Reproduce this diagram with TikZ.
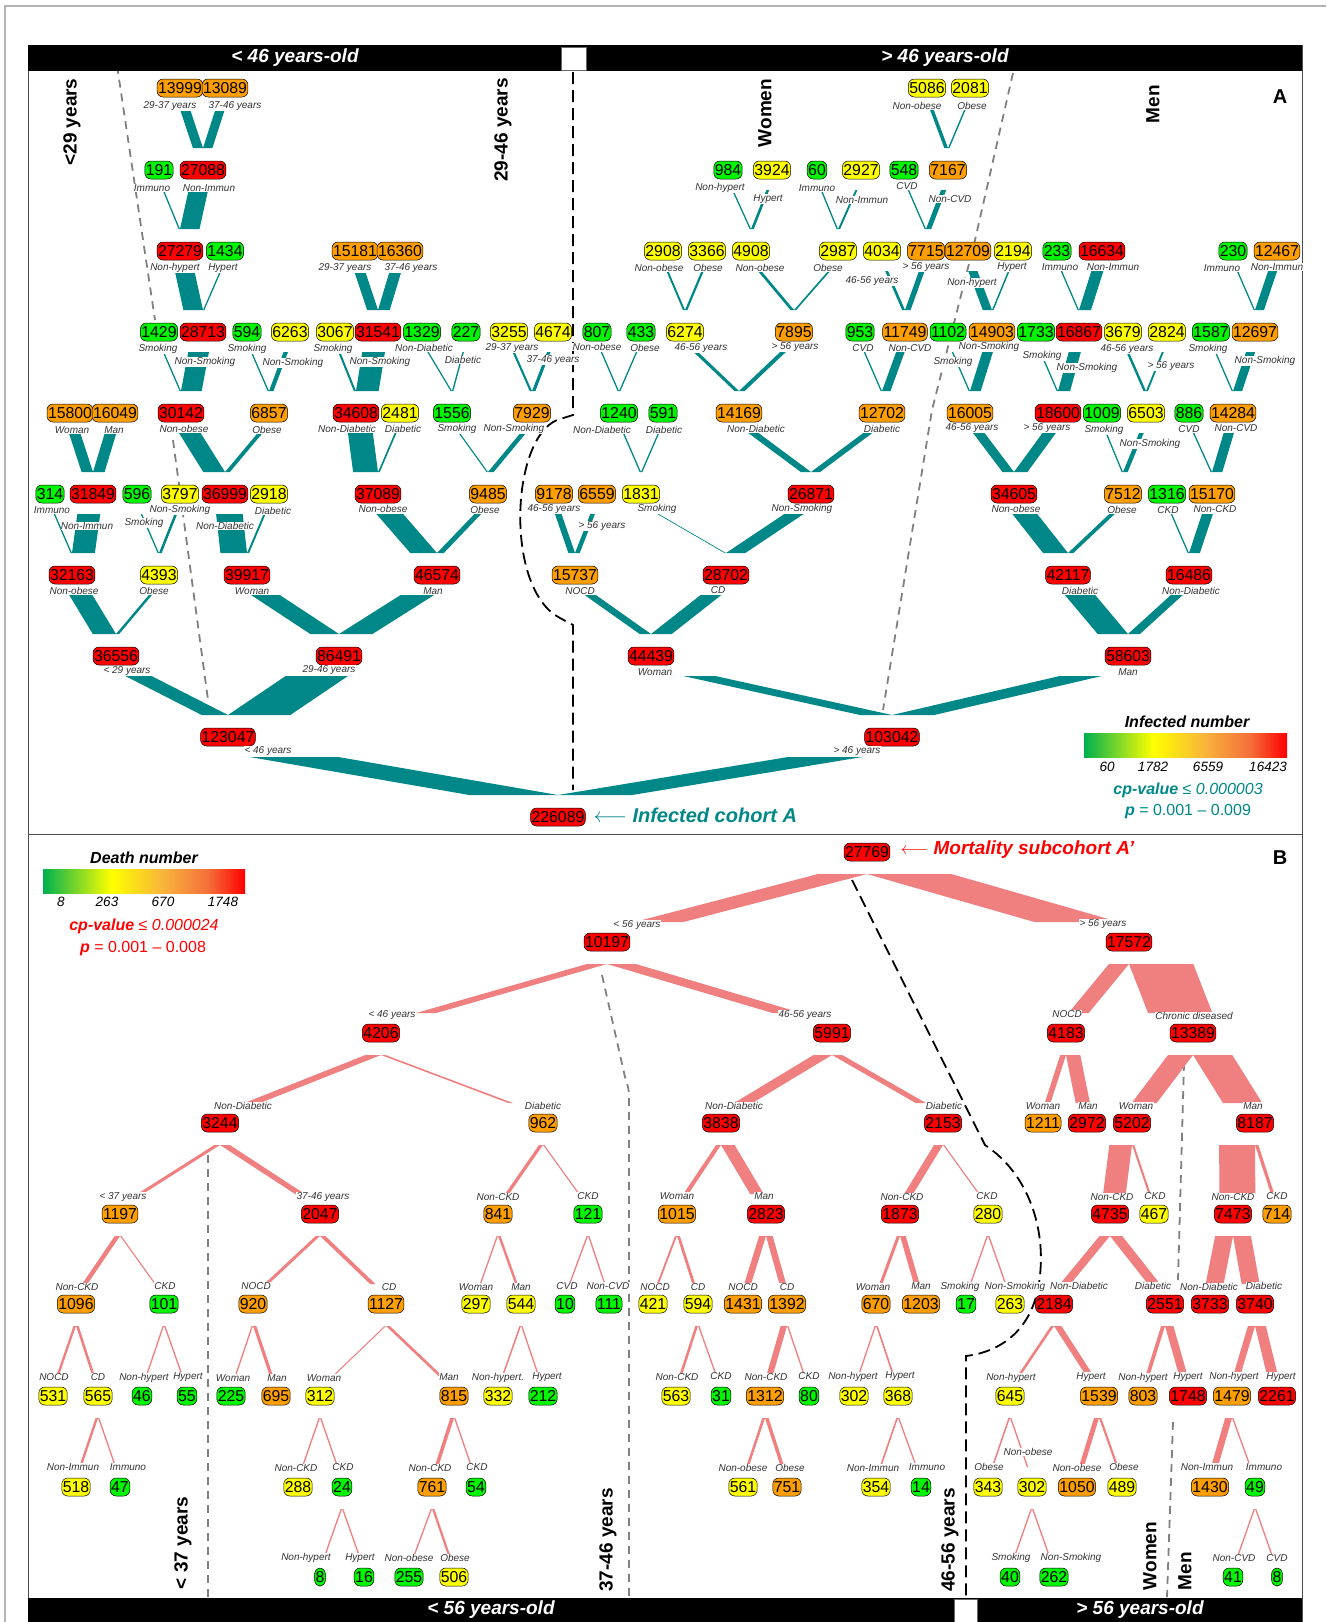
\documentclass[tikz,border=0pt]{standalone}
\usepackage{fontspec}
\setmainfont{Liberation Sans}
\usetikzlibrary{calc}

\definecolor{nodeRed}{RGB}{255,0,0}
\definecolor{nodeOrange}{RGB}{255,158,0}
\definecolor{nodeYellow}{RGB}{255,255,0}
\definecolor{nodeGreen}{RGB}{0,245,0}
\definecolor{flowA}{RGB}{0,135,135}
\definecolor{flowB}{RGB}{240,128,128}
\definecolor{hG}{RGB}{0,176,80}
\definecolor{hY}{RGB}{255,255,0}
\definecolor{hO}{RGB}{248,178,60}
\definecolor{hO2}{RGB}{244,110,58}
\definecolor{hR}{RGB}{255,0,0}

\pgfdeclarehorizontalshading{heat}{100bp}{color(0bp)=(hG); color(25bp)=(hG); color(42bp)=(hY); color(55bp)=(hO); color(66bp)=(hO2); color(75bp)=(hR); color(100bp)=(hR)}

\pgfdeclarelayer{back}
\pgfdeclarelayer{flow}
\pgfsetlayers{back,flow,main}

\tikzset{
  nd/.style={draw, line width=0.5pt, rounded corners=6pt, minimum height=18pt, inner xsep=1pt, inner ysep=0pt, font=\fontsize{15.8}{16}\selectfont},
  cR/.style={nd, fill=nodeRed},
  cO/.style={nd, fill=nodeOrange},
  cY/.style={nd, fill=nodeYellow},
  cG/.style={nd, fill=nodeGreen},
  lb/.style={fill=white, inner sep=0.3pt, text=black!80, font=\itshape\fontsize{10}{10}\selectfont},
  side/.style={rotate=90, font=\bfseries\fontsize{19}{19}\selectfont},
  bartext/.style={text=white, font=\bfseries\itshape\fontsize{19}{19}\selectfont},
  gdash/.style={gray, line width=1.8pt, dash pattern=on 8pt off 6pt},
  kdash/.style={black, line width=1.8pt, dash pattern=on 12pt off 6pt},
  tick/.style={font=\itshape\fontsize{13.5}{14}\selectfont},
}

% band from child node to the junction of its parent
\newcommand\flowband[6]{%
  \ifnum#3<14 \def\bandw{14}\else\edef\bandw{#3}\fi
  \fill[#6] let \p1=(#1.center), \p2=(#2.center), \n1={(\x1>\x2)*2-1}, \n2={\x1+0.2*(\x2-\x1)} in
    (\x2,\y2#4) -- ({\x2+\n1*\bandw*0.1},\y2#4) -- ({\n2+\n1*\bandw*0.05},\y1#5) -- ({\n2-\n1*\bandw*0.05},\y1#5) -- cycle;}
\newcommand\bandA[3]{\flowband{#1}{#2}{\the\numexpr#3*72/10000\relax}{+22pt}{-20pt}{flowA}}
\newcommand\bandB[3]{\flowband{#1}{#2}{\the\numexpr#3*48/1000\relax}{-22pt}{+20pt}{flowB}}

\begin{document}
\begin{tikzpicture}[x=1pt,y=-1pt]
\useasboundingbox (0,0) rectangle (1326,1622);

% frames and bars
\draw[gray!60, line width=1.2pt] (5,1622) -- (5,6) -- (1326,6);
\draw[black!70, line width=0.8pt] (28,45) rectangle (1302,1622);
\draw[black!70, line width=0.8pt] (28,834) -- (1302,834);
\fill[black] (28,45) rectangle (1302,71);
\filldraw[fill=white, draw=black!60] (561,47) rectangle (586,70);
\fill[black] (28,1598) rectangle (1302,1622);
\filldraw[fill=white, draw=black!60] (954,1599) rectangle (977,1622);
\node[bartext] at (295,58) {< 46 years-old};
\node[bartext] at (945,58) {> 46 years-old};
\node[bartext] at (491,1610) {< 56 years-old};
\node[bartext] at (1140,1610) {> 56 years-old};
\node[font=\bfseries\fontsize{20}{20}\selectfont] at (1280,97) {A};
\node[font=\bfseries\fontsize{20}{20}\selectfont] at (1280,858) {B};

% group labels
\node[side] at (72,122) {<29 years};
\node[side] at (503,130) {29-46 years};
\node[side] at (765,113) {Women};
\node[side] at (1153,104) {Men};
\node[side] at (183,1543) {< 37 years};
\node[side] at (608,1540) {37-46 years};
\node[side] at (950,1540) {46-56 years};
\node[side] at (1150,1556) {Women};
\node[side] at (1185,1571) {Men};

% dividing lines
\begin{pgfonlayer}{back}
\draw[gdash] (115,52) -- (155,320);
\draw[gdash] (173,440) -- (208,700);
\draw[kdash] (573,72) -- (573,415) -- (557,420) .. controls (510,440) and (505,590) .. (560,618) -- (573,625) -- (573,790);
\draw[gdash] (1013,73) -- (975,240) -- (932,410) -- (883,710);
\draw[kdash] (852,880) -- (985,1145) .. controls (1030,1175) and (1045,1230) .. (1040,1275) .. controls (1035,1330) and (1000,1352) .. (966,1356) -- (966,1597);
\draw[gdash] (208,1155) -- (208,1597);
\draw[gdash] (602,975) -- (625,1077) .. controls (629,1090) .. (629,1100) -- (629,1597);
\draw[gdash] (1184,1063) -- (1178,1280);
\draw[gdash] (1173,1422) -- (1167,1597);
\end{pgfonlayer}

% ---------- cohort A ----------
\node[cO] (a13999) at (180,88) {13999}; \node[lb] at (170,106) {29-37 years};
\node[cO] (a13089) at (225,88) {13089}; \node[lb] at (235,106) {37-46 years};
\node[cY] (a5086) at (927,88) {5086}; \node[lb] at (917,106) {Non-obese};
\node[cY] (a2081) at (970,88) {2081}; \node[lb] at (972,106) {Obese};

\node[cG] (a191) at (159,170) {191}; \node[lb] at (152,188) {Immuno};
\node[cR] (a27088) at (203,170) {27088}; \node[lb] at (209,188) {Non-Immun};
\node[cG] (a984) at (728,170) {984}; \node[lb] at (720,188) {Non-hypert};
\node[cY] (a3924) at (772,170) {3924}; \node[lb] at (768,199) {Hypert};
\node[cG] (a60) at (817,170) {60}; \node[lb] at (817,188) {Immuno};
\node[cY] (a2927) at (861,170) {2927}; \node[lb] at (862,200) {Non-Immun};
\node[cG] (a548) at (904,170) {548}; \node[lb] at (907,186) {CVD};
\node[cO] (a7167) at (948,170) {7167}; \node[lb] at (950,199) {Non-CVD};

\node[cR] (a27279) at (180,251) {27279}; \node[lb] at (175,268) {Non-hypert};
\node[cG] (a1434) at (225,251) {1434}; \node[lb] at (223,268) {Hypert};
\node[cO] (a15181) at (355,251) {15181}; \node[lb] at (345,268) {29-37 years};
\node[cO] (a16360) at (400,251) {16360}; \node[lb] at (411,268) {37-46 years};
\node[cY] (a2908) at (663,251) {2908}; \node[lb] at (659,268) {Non-obese};
\node[cY] (a3366) at (707,251) {3366}; \node[lb] at (708,268) {Obese};
\node[cY] (a4908) at (751,251) {4908}; \node[lb] at (760,268) {Non-obese};
\node[cY] (a2987) at (838,251) {2987}; \node[lb] at (828,268) {Obese};
\node[cY] (a4034) at (882,251) {4034}; \node[lb] at (872,281) {46-56 years};
\node[cO] (a7715) at (926,251) {7715}; \node[lb] at (926,267) {> 56 years};
\node[cO] (a12709) at (968,251) {12709}; \node[lb] at (972,283) {Non-hypert};
\node[cY] (a2194) at (1013,251) {2194}; \node[lb] at (1012,267) {Hypert};
\node[cG] (a233) at (1057,251) {233}; \node[lb] at (1060,267) {Immuno};
\node[cR] (a16634) at (1102,251) {16634}; \node[lb] at (1113,267) {Non-Immun};
\node[cG] (a230) at (1233,251) {230}; \node[lb] at (1222,268) {Immuno};
\node[cO] (a12467) at (1277,251) {12467}; \node[lb] at (1277,267) {Non-Immun};

\node[cG] (a1429) at (159,332) {1429}; \node[lb] at (158,349) {Smoking};
\node[cR] (a28713) at (203,332) {28713}; \node[lb] at (205,362) {Non-Smoking};
\node[cG] (a594) at (247,332) {594}; \node[lb] at (247,349) {Smoking};
\node[cY] (a6263) at (290,332) {6263}; \node[lb] at (293,363) {Non-Smoking};
\node[cY] (a3067) at (335,332) {3067}; \node[lb] at (333,349) {Smoking};
\node[cR] (a31541) at (378,332) {31541}; \node[lb] at (380,362) {Non-Smoking};
\node[cG] (a1329) at (422,332) {1329}; \node[lb] at (424,348) {Non-Diabetic};
\node[cG] (a227) at (466,332) {227}; \node[lb] at (463,360) {Diabetic};
\node[cY] (a3255) at (509,332) {3255}; \node[lb] at (512,348) {29-37 years};
\node[cY] (a4674) at (553,332) {4674}; \node[lb] at (553,360) {37-46 years};
\node[cG] (a807) at (597,332) {807}; \node[lb] at (597,347) {Non-obese};
\node[cG] (a433) at (641,332) {433}; \node[lb] at (645,348) {Obese};
\node[cY] (a6274) at (685,332) {6274}; \node[lb] at (701,348) {46-56 years};
\node[cO] (a7895) at (794,332) {7895}; \node[lb] at (795,347) {> 56 years};
\node[cG] (a953) at (860,332) {953}; \node[lb] at (863,348) {CVD};
\node[cO] (a11749) at (905,332) {11749}; \node[lb] at (910,348) {Non-CVD};
\node[cG] (a1102) at (948,332) {1102}; \node[lb] at (953,362) {Smoking};
\node[cO] (a14903) at (992,332) {14903}; \node[lb] at (989,347) {Non-Smoking};
\node[cG] (a1733) at (1036,332) {1733}; \node[lb] at (1042,356) {Smoking};
\node[cR] (a16867) at (1079,332) {16867}; \node[lb] at (1087,368) {Non-Smoking};
\node[cY] (a3679) at (1123,332) {3679}; \node[lb] at (1127,349) {46-56 years};
\node[cY] (a2824) at (1167,332) {2824}; \node[lb] at (1171,366) {> 56 years};
\node[cG] (a1587) at (1211,332) {1587}; \node[lb] at (1208,349) {Smoking};
\node[cO] (a12697) at (1255,332) {12697}; \node[lb] at (1265,361) {Non-Smoking};

\node[cO] (a15800) at (70,413) {15800}; \node[lb] at (72,430) {Woman};
\node[cO] (a16049) at (115,413) {16049}; \node[lb] at (114,430) {Man};
\node[cR] (a30142) at (181,413) {30142}; \node[lb] at (184,429) {Non-obese};
\node[cO] (a6857) at (269,413) {6857}; \node[lb] at (267,430) {Obese};
\node[cR] (a34608) at (356,413) {34608}; \node[lb] at (347,429) {Non-Diabetic};
\node[cY] (a2481) at (400,413) {2481}; \node[lb] at (403,429) {Diabetic};
\node[cG] (a1556) at (452,413) {1556}; \node[lb] at (457,429) {Smoking};
\node[cO] (a7929) at (532,413) {7929}; \node[lb] at (514,429) {Non-Smoking};
\node[cG] (a1240) at (619,413) {1240}; \node[lb] at (602,430) {Non-Diabetic};
\node[cG] (a591) at (663,413) {591}; \node[lb] at (664,430) {Diabetic};
\node[cO] (a14169) at (739,413) {14169}; \node[lb] at (756,429) {Non-Diabetic};
\node[cO] (a12702) at (882,413) {12702}; \node[lb] at (882,429) {Diabetic};
\node[cO] (a16005) at (970,413) {16005}; \node[lb] at (972,428) {46-56 years};
\node[cR] (a18600) at (1058,413) {18600}; \node[lb] at (1047,428) {> 56 years};
\node[cG] (a1009) at (1102,413) {1009}; \node[lb] at (1104,430) {Smoking};
\node[cY] (a6503) at (1146,413) {6503}; \node[lb] at (1150,444) {Non-Smoking};
\node[cG] (a886) at (1189,413) {886}; \node[lb] at (1189,429) {CVD};
\node[cO] (a14284) at (1233,413) {14284}; \node[lb] at (1236,428) {Non-CVD};

\node[cG] (a314) at (50,494) {314}; \node[lb] at (52,510) {Immuno};
\node[cR] (a31849) at (93,494) {31849}; \node[lb] at (87,526) {Non-Immun};
\node[cG] (a596) at (137,494) {596}; \node[lb] at (144,523) {Smoking};
\node[cY] (a3797) at (180,494) {3797}; \node[lb] at (180,510) {Non-Smoking};
\node[cR] (a36999) at (225,494) {36999}; \node[lb] at (225,526) {Non-Diabetic};
\node[cY] (a2918) at (269,494) {2918}; \node[lb] at (273,511) {Diabetic};
\node[cR] (a37089) at (378,494) {37089}; \node[lb] at (383,509) {Non-obese};
\node[cO] (a9485) at (488,494) {9485}; \node[lb] at (485,510) {Obese};
\node[cO] (a9178) at (554,494) {9178}; \node[lb] at (554,509) {46-56 years};
\node[cO] (a6559) at (597,494) {6559}; \node[lb] at (602,526) {> 56 years};
\node[cY] (a1831) at (641,494) {1831}; \node[lb] at (657,509) {Smoking};
\node[cR] (a26871) at (811,494) {26871}; \node[lb] at (802,509) {Non-Smoking};
\node[cR] (a34605) at (1014,494) {34605}; \node[lb] at (1016,509) {Non-obese};
\node[cO] (a7512) at (1123,494) {7512}; \node[lb] at (1122,510) {Obese};
\node[cG] (a1316) at (1167,494) {1316}; \node[lb] at (1168,510) {CKD};
\node[cO] (a15170) at (1212,494) {15170}; \node[lb] at (1215,509) {Non-CKD};

\node[cR] (a32163) at (72,575) {32163}; \node[lb] at (74,591) {Non-obese};
\node[cY] (a4393) at (159,575) {4393}; \node[lb] at (154,591) {Obese};
\node[cR] (a39917) at (247,575) {39917}; \node[lb] at (252,591) {Woman};
\node[cR] (a46574) at (437,575) {46574}; \node[lb] at (433,591) {Man};
\node[cO] (a15737) at (575,575) {15737}; \node[lb] at (580,591) {NOCD};
\node[cR] (a28702) at (726,575) {28702}; \node[lb] at (718,590) {CD};
\node[cR] (a42117) at (1068,575) {42117}; \node[lb] at (1080,591) {Diabetic};
\node[cR] (a16486) at (1189,575) {16486}; \node[lb] at (1191,591) {Non-Diabetic};

\node[cR] (a36556) at (116,656) {36556}; \node[lb] at (127,671) {< 29 years};
\node[cR] (a86491) at (339,656) {86491}; \node[lb] at (329,670) {29-46 years};
\node[cR] (a44439) at (651,656) {44439}; \node[lb] at (655,672) {Woman};
\node[cR] (a58603) at (1128,656) {58603}; \node[lb] at (1128,672) {Man};

\node[cR] (a123047) at (228,737) {123047}; \node[lb] at (268,751) {< 46 years};
\node[cR] (a103042) at (892,737) {103042}; \node[lb] at (857,751) {> 46 years};

\node[cR] (a226089) at (558,817) {226089};
\node[anchor=west, text=flowA, font=\bfseries\itshape\fontsize{20}{20}\selectfont] at (590,815) {$\longleftarrow$ Infected cohort A};

\begin{pgfonlayer}{flow}
\bandA{a123047}{a226089}{123047} \bandA{a103042}{a226089}{103042}
\bandA{a36556}{a123047}{36556} \bandA{a86491}{a123047}{86491}
\bandA{a44439}{a103042}{44439} \bandA{a58603}{a103042}{58603}
\bandA{a32163}{a36556}{32163} \bandA{a4393}{a36556}{4393}
\bandA{a39917}{a86491}{39917} \bandA{a46574}{a86491}{46574}
\bandA{a15737}{a44439}{15737} \bandA{a28702}{a44439}{28702}
\bandA{a42117}{a58603}{42117} \bandA{a16486}{a58603}{16486}
\bandA{a314}{a32163}{314} \bandA{a31849}{a32163}{31849}
\bandA{a596}{a4393}{596} \bandA{a3797}{a4393}{3797}
\bandA{a36999}{a39917}{36999} \bandA{a2918}{a39917}{2918}
\bandA{a37089}{a46574}{37089} \bandA{a9485}{a46574}{9485}
\bandA{a9178}{a15737}{9178} \bandA{a6559}{a15737}{6559}
\bandA{a1831}{a28702}{1831} \bandA{a26871}{a28702}{26871}
\bandA{a34605}{a42117}{34605} \bandA{a7512}{a42117}{7512}
\bandA{a1316}{a16486}{1316} \bandA{a15170}{a16486}{15170}
\bandA{a15800}{a31849}{15800} \bandA{a16049}{a31849}{16049}
\bandA{a30142}{a36999}{30142} \bandA{a6857}{a36999}{6857}
\bandA{a34608}{a37089}{34608} \bandA{a2481}{a37089}{2481}
\bandA{a1556}{a9485}{1556} \bandA{a7929}{a9485}{7929}
\bandA{a1240}{a1831}{1240} \bandA{a591}{a1831}{591}
\bandA{a14169}{a26871}{14169} \bandA{a12702}{a26871}{12702}
\bandA{a16005}{a34605}{16005} \bandA{a18600}{a34605}{18600}
\bandA{a1009}{a7512}{1009} \bandA{a6503}{a7512}{6503}
\bandA{a886}{a15170}{886} \bandA{a14284}{a15170}{14284}
\bandA{a1429}{a30142}{1429} \bandA{a28713}{a30142}{28713}
\bandA{a594}{a6857}{594} \bandA{a6263}{a6857}{6263}
\bandA{a3067}{a34608}{3067} \bandA{a31541}{a34608}{31541}
\bandA{a1329}{a1556}{1329} \bandA{a227}{a1556}{227}
\bandA{a3255}{a7929}{3255} \bandA{a4674}{a7929}{4674}
\bandA{a807}{a1240}{807} \bandA{a433}{a1240}{433}
\bandA{a6274}{a14169}{6274} \bandA{a7895}{a14169}{7895}
\bandA{a953}{a12702}{953} \bandA{a11749}{a12702}{11749}
\bandA{a1102}{a16005}{1102} \bandA{a14903}{a16005}{14903}
\bandA{a1733}{a18600}{1733} \bandA{a16867}{a18600}{16867}
\bandA{a3679}{a6503}{3679} \bandA{a2824}{a6503}{2824}
\bandA{a1587}{a14284}{1587} \bandA{a12697}{a14284}{12697}
\bandA{a27279}{a28713}{27279} \bandA{a1434}{a28713}{1434}
\bandA{a15181}{a31541}{15181} \bandA{a16360}{a31541}{16360}
\bandA{a2908}{a6274}{2908} \bandA{a3366}{a6274}{3366}
\bandA{a4908}{a7895}{4908} \bandA{a2987}{a7895}{2987}
\bandA{a4034}{a11749}{4034} \bandA{a7715}{a11749}{7715}
\bandA{a12709}{a14903}{12709} \bandA{a2194}{a14903}{2194}
\bandA{a233}{a16867}{233} \bandA{a16634}{a16867}{16634}
\bandA{a230}{a12697}{230} \bandA{a12467}{a12697}{12467}
\bandA{a191}{a27279}{191} \bandA{a27088}{a27279}{27088}
\bandA{a984}{a4908}{984} \bandA{a3924}{a4908}{3924}
\bandA{a60}{a2987}{60} \bandA{a2927}{a2987}{2927}
\bandA{a548}{a7715}{548} \bandA{a7167}{a7715}{7167}
\bandA{a13999}{a27088}{13999} \bandA{a13089}{a27088}{13089}
\bandA{a5086}{a7167}{5086} \bandA{a2081}{a7167}{2081}
\end{pgfonlayer}

% legend A
\node[font=\bfseries\itshape\fontsize{16}{16}\selectfont] at (1187,722) {Infected number};
\shade[shading=heat] (1084,733) rectangle (1287,757);
\foreach \val/\xp in {60/1107,1782/1153,6559/1208,16423/1268}
  \node[tick] at (\xp,767) {\val};
\node[text=flowA, font=\fontsize{16}{16}\selectfont] at (1188,790) {\textbf{\textit{cp-value}} \textit{≤ 0.000003}};
\node[text=flowA, font=\fontsize{16}{16}\selectfont] at (1188,812) {\textbf{\textit{p}} = 0.001 – 0.009};

% ---------- mortality subcohort ----------
\node[cR] (b27769) at (867,852) {27769};
\node[anchor=west, text=red, font=\bfseries\itshape\fontsize{19}{19}\selectfont] at (897,850) {$\longleftarrow$ Mortality subcohort A’};

\node[cR] (b10197) at (607,942) {10197}; \node[lb] at (637,925) {< 56 years};
\node[cR] (b17572) at (1129,942) {17572}; \node[lb] at (1103,924) {> 56 years};

\node[cR] (b4206) at (381,1033) {4206}; \node[lb] at (392,1015) {< 46 years};
\node[cR] (b5991) at (832,1033) {5991}; \node[lb] at (805,1015) {46-56 years};
\node[cR] (b4183) at (1066,1033) {4183}; \node[lb] at (1067,1014) {NOCD};
\node[cR] (b13389) at (1193,1033) {13389}; \node[lb] at (1194,1016) {Chronic diseased};

\node[cR] (b3244) at (220,1123) {3244}; \node[lb] at (243,1106) {Non-Diabetic};
\node[cO] (b962) at (543,1123) {962}; \node[lb] at (543,1106) {Diabetic};
\node[cR] (b3838) at (721,1123) {3838}; \node[lb] at (734,1106) {Non-Diabetic};
\node[cR] (b2153) at (943,1123) {2153}; \node[lb] at (944,1106) {Diabetic};
\node[cO] (b1211) at (1043,1123) {1211}; \node[lb] at (1043,1106) {Woman};
\node[cR] (b2972) at (1087,1123) {2972}; \node[lb] at (1088,1106) {Man};
\node[cR] (b5202) at (1132,1123) {5202}; \node[lb] at (1136,1106) {Woman};
\node[cR] (b8187) at (1255,1123) {8187}; \node[lb] at (1253,1106) {Man};

\node[cO] (b1197) at (120,1214) {1197}; \node[lb] at (123,1197) {< 37 years};
\node[cR] (b2047) at (320,1214) {2047}; \node[lb] at (323,1197) {37-46 years};
\node[cO] (b841) at (498,1214) {841}; \node[lb] at (498,1197) {Non-CKD};
\node[cG] (b121) at (588,1214) {121}; \node[lb] at (588,1196) {CKD};
\node[cO] (b1015) at (677,1214) {1015}; \node[lb] at (677,1196) {Woman};
\node[cR] (b2823) at (766,1214) {2823}; \node[lb] at (764,1196) {Man};
\node[cR] (b1873) at (900,1214) {1873}; \node[lb] at (902,1197) {Non-CKD};
\node[cY] (b280) at (988,1214) {280}; \node[lb] at (987,1196) {CKD};
\node[cR] (b4735) at (1110,1214) {4735}; \node[lb] at (1112,1197) {Non-CKD};
\node[cY] (b467) at (1154,1214) {467}; \node[lb] at (1155,1196) {CKD};
\node[cR] (b7473) at (1233,1214) {7473}; \node[lb] at (1233,1197) {Non-CKD};
\node[cO] (b714) at (1277,1214) {714}; \node[lb] at (1277,1196) {CKD};

\node[cO] (b1096) at (76,1304) {1096}; \node[lb] at (77,1287) {Non-CKD};
\node[cG] (b101) at (164,1304) {101}; \node[lb] at (165,1286) {CKD};
\node[cO] (b920) at (253,1304) {920}; \node[lb] at (256,1286) {NOCD};
\node[cO] (b1127) at (386,1304) {1127}; \node[lb] at (389,1287) {CD};
\node[cY] (b297) at (476,1304) {297}; \node[lb] at (476,1287) {Woman};
\node[cY] (b544) at (521,1304) {544}; \node[lb] at (521,1287) {Man};
\node[cG] (b10) at (565,1304) {10}; \node[lb] at (567,1286) {CVD};
\node[cG] (b111) at (609,1304) {111}; \node[lb] at (608,1286) {Non-CVD};
\node[cY] (b421) at (653,1304) {421}; \node[lb] at (655,1287) {NOCD};
\node[cY] (b594) at (698,1304) {594}; \node[lb] at (698,1287) {CD};
\node[cO] (b1431) at (743,1304) {1431}; \node[lb] at (743,1287) {NOCD};
\node[cO] (b1392) at (787,1304) {1392}; \node[lb] at (787,1287) {CD};
\node[cO] (b670) at (876,1304) {670}; \node[lb] at (873,1287) {Woman};
\node[cO] (b1203) at (921,1304) {1203}; \node[lb] at (921,1286) {Man};
\node[cG] (b17) at (966,1304) {17}; \node[lb] at (960,1287) {Smoking};
\node[cY] (b263) at (1010,1304) {263}; \node[lb] at (1015,1287) {Non-Smoking};
\node[cR] (b2184) at (1054,1304) {2184}; \node[lb] at (1079,1286) {Non-Diabetic};
\node[cR] (b2551) at (1165,1304) {2551}; \node[lb] at (1153,1286) {Diabetic};
\node[cR] (b3733) at (1210,1304) {3733}; \node[lb] at (1209,1287) {Non-Diabetic};
\node[cR] (b3740) at (1255,1304) {3740}; \node[lb] at (1264,1286) {Diabetic};

\node[cY] (b531) at (53,1396) {531}; \node[lb] at (54,1377) {NOCD};
\node[cY] (b565) at (98,1396) {565}; \node[lb] at (98,1377) {CD};
\node[cG] (b46) at (142,1396) {46}; \node[lb] at (144,1378) {Non-hypert};
\node[cG] (b55) at (187,1396) {55}; \node[lb] at (188,1377) {Hypert};
\node[cG] (b225) at (231,1396) {225}; \node[lb] at (233,1378) {Woman};
\node[cO] (b695) at (276,1396) {695}; \node[lb] at (277,1378) {Man};
\node[cY] (b312) at (320,1396) {312}; \node[lb] at (324,1378) {Woman};
\node[cO] (b815) at (454,1396) {815}; \node[lb] at (449,1377) {Man};
\node[cY] (b332) at (498,1396) {332}; \node[lb] at (498,1378) {Non-hypert.};
\node[cG] (b212) at (543,1396) {212}; \node[lb] at (547,1377) {Hypert};
\node[cY] (b563) at (676,1396) {563}; \node[lb] at (677,1377) {Non-CKD};
\node[cG] (b31) at (721,1396) {31}; \node[lb] at (721,1376) {CKD};
\node[cO] (b1312) at (765,1396) {1312}; \node[lb] at (766,1377) {Non-CKD};
\node[cG] (b80) at (809,1396) {80}; \node[lb] at (809,1376) {CKD};
\node[cY] (b302) at (854,1396) {302}; \node[lb] at (853,1377) {Non-hypert};
\node[cY] (b368) at (898,1396) {368}; \node[lb] at (900,1376) {Hypert};
\node[cY] (b645) at (1010,1396) {645}; \node[lb] at (1011,1378) {Non-hypert};
\node[cO] (b1539) at (1099,1396) {1539}; \node[lb] at (1091,1377) {Hypert};
\node[cO] (b803) at (1143,1396) {803}; \node[lb] at (1143,1378) {Non-hypert};
\node[cR] (b1748) at (1188,1396) {1748}; \node[lb] at (1188,1377) {Hypert};
\node[cO] (b1479) at (1232,1396) {1479}; \node[lb] at (1234,1377) {Non-hypert};
\node[cR] (b2261) at (1277,1396) {2261}; \node[lb] at (1281,1377) {Hypert};

\node[cY] (b518) at (76,1487) {518}; \node[lb] at (73,1467) {Non-Immun};
\node[cG] (b47) at (120,1487) {47}; \node[lb] at (128,1467) {Immuno};
\node[cY] (b288) at (298,1487) {288}; \node[lb] at (296,1468) {Non-CKD};
\node[cG] (b24) at (342,1487) {24}; \node[lb] at (343,1467) {CKD};
\node[cO] (b761) at (432,1487) {761}; \node[lb] at (430,1468) {Non-CKD};
\node[cG] (b54) at (476,1487) {54}; \node[lb] at (477,1467) {CKD};
\node[cY] (b561) at (743,1487) {561}; \node[lb] at (743,1468) {Non-obese};
\node[cO] (b751) at (787,1487) {751}; \node[lb] at (790,1468) {Obese};
\node[cY] (b354) at (876,1487) {354}; \node[lb] at (873,1468) {Non-Immun};
\node[cG] (b14) at (921,1487) {14}; \node[lb] at (927,1467) {Immuno};
\node[cY] (b343) at (988,1487) {343}; \node[lb] at (989,1467) {Obese};
\node[cY] (b302o) at (1032,1487) {302}; \node[lb] at (1028,1452) {Non-obese};
\node[cO] (b1050) at (1077,1487) {1050}; \node[lb] at (1077,1468) {Non-obese};
\node[cY] (b489) at (1122,1487) {489}; \node[lb] at (1124,1467) {Obese};
\node[cO] (b1430) at (1210,1487) {1430}; \node[lb] at (1207,1467) {Non-Immun};
\node[cG] (b49) at (1255,1487) {49}; \node[lb] at (1264,1467) {Immuno};

\node[cG] (b8h) at (320,1577) {8}; \node[lb] at (306,1558) {Non-hypert};
\node[cG] (b16) at (364,1577) {16}; \node[lb] at (360,1558) {Hypert};
\node[cG] (b255) at (409,1577) {255}; \node[lb] at (409,1558) {Non-obese};
\node[cY] (b506) at (454,1577) {506}; \node[lb] at (455,1558) {Obese};
\node[cG] (b40) at (1010,1577) {40}; \node[lb] at (1011,1558) {Smoking};
\node[cG] (b262) at (1054,1577) {262}; \node[lb] at (1071,1558) {Non-Smoking};
\node[cG] (b41) at (1233,1577) {41}; \node[lb] at (1234,1558) {Non-CVD};
\node[cG] (b8c) at (1277,1577) {8}; \node[lb] at (1277,1558) {CVD};

\begin{pgfonlayer}{flow}
\bandB{b10197}{b27769}{10197} \bandB{b17572}{b27769}{17572}
\bandB{b4206}{b10197}{4206} \bandB{b5991}{b10197}{5991}
\bandB{b4183}{b17572}{4183} \bandB{b13389}{b17572}{13389}
\bandB{b3244}{b4206}{3244} \bandB{b962}{b4206}{962}
\bandB{b3838}{b5991}{3838} \bandB{b2153}{b5991}{2153}
\bandB{b1211}{b4183}{1211} \bandB{b2972}{b4183}{2972}
\bandB{b5202}{b13389}{5202} \bandB{b8187}{b13389}{8187}
\bandB{b1197}{b3244}{1197} \bandB{b2047}{b3244}{2047}
\bandB{b841}{b962}{841} \bandB{b121}{b962}{121}
\bandB{b1015}{b3838}{1015} \bandB{b2823}{b3838}{2823}
\bandB{b1873}{b2153}{1873} \bandB{b280}{b2153}{280}
\bandB{b4735}{b5202}{4735} \bandB{b467}{b5202}{467}
\bandB{b7473}{b8187}{7473} \bandB{b714}{b8187}{714}
\bandB{b1096}{b1197}{1096} \bandB{b101}{b1197}{101}
\bandB{b920}{b2047}{920} \bandB{b1127}{b2047}{1127}
\bandB{b297}{b841}{297} \bandB{b544}{b841}{544}
\bandB{b10}{b121}{10} \bandB{b111}{b121}{111}
\bandB{b421}{b1015}{421} \bandB{b594}{b1015}{594}
\bandB{b1431}{b2823}{1431} \bandB{b1392}{b2823}{1392}
\bandB{b670}{b1873}{670} \bandB{b1203}{b1873}{1203}
\bandB{b17}{b280}{17} \bandB{b263}{b280}{263}
\bandB{b2184}{b4735}{2184} \bandB{b2551}{b4735}{2551}
\bandB{b3733}{b7473}{3733} \bandB{b3740}{b7473}{3740}
\bandB{b531}{b1096}{531} \bandB{b565}{b1096}{565}
\bandB{b46}{b101}{46} \bandB{b55}{b101}{55}
\bandB{b225}{b920}{225} \bandB{b695}{b920}{695}
\bandB{b312}{b1127}{312} \bandB{b815}{b1127}{815}
\bandB{b332}{b544}{332} \bandB{b212}{b544}{212}
\bandB{b563}{b594}{563} \bandB{b31}{b594}{31}
\bandB{b1312}{b1392}{1312} \bandB{b80}{b1392}{80}
\bandB{b302}{b670}{302} \bandB{b368}{b670}{368}
\bandB{b645}{b2184}{645} \bandB{b1539}{b2184}{1539}
\bandB{b803}{b2551}{803} \bandB{b1748}{b2551}{1748}
\bandB{b1479}{b3740}{1479} \bandB{b2261}{b3740}{2261}
\bandB{b518}{b565}{518} \bandB{b47}{b565}{47}
\bandB{b288}{b312}{288} \bandB{b24}{b312}{24}
\bandB{b761}{b815}{761} \bandB{b54}{b815}{54}
\bandB{b561}{b1312}{561} \bandB{b751}{b1312}{751}
\bandB{b354}{b368}{354} \bandB{b14}{b368}{14}
\bandB{b343}{b645}{343} \bandB{b302o}{b645}{302}
\bandB{b1050}{b1539}{1050} \bandB{b489}{b1539}{489}
\bandB{b1430}{b1479}{1430} \bandB{b49}{b1479}{49}
\bandB{b8h}{b24}{8} \bandB{b16}{b24}{16}
\bandB{b255}{b761}{255} \bandB{b506}{b761}{506}
\bandB{b40}{b302o}{40} \bandB{b262}{b302o}{262}
\bandB{b41}{b49}{41} \bandB{b8c}{b49}{8}
\end{pgfonlayer}

% legend B
\node[font=\bfseries\itshape\fontsize{16}{16}\selectfont] at (144,858) {Death number};
\shade[shading=heat] (43,869) rectangle (245,893);
\foreach \val/\xp in {8/61,263/107,670/163,1748/223}
  \node[tick] at (\xp,902) {\val};
\node[text=red, font=\fontsize{16}{16}\selectfont] at (144,926) {\textbf{\textit{cp-value}} \textit{≤ 0.000024}};
\node[text=red, font=\fontsize{16}{16}\selectfont] at (143,949) {\textbf{\textit{p}} = 0.001 – 0.008};
\end{tikzpicture}
\end{document}
